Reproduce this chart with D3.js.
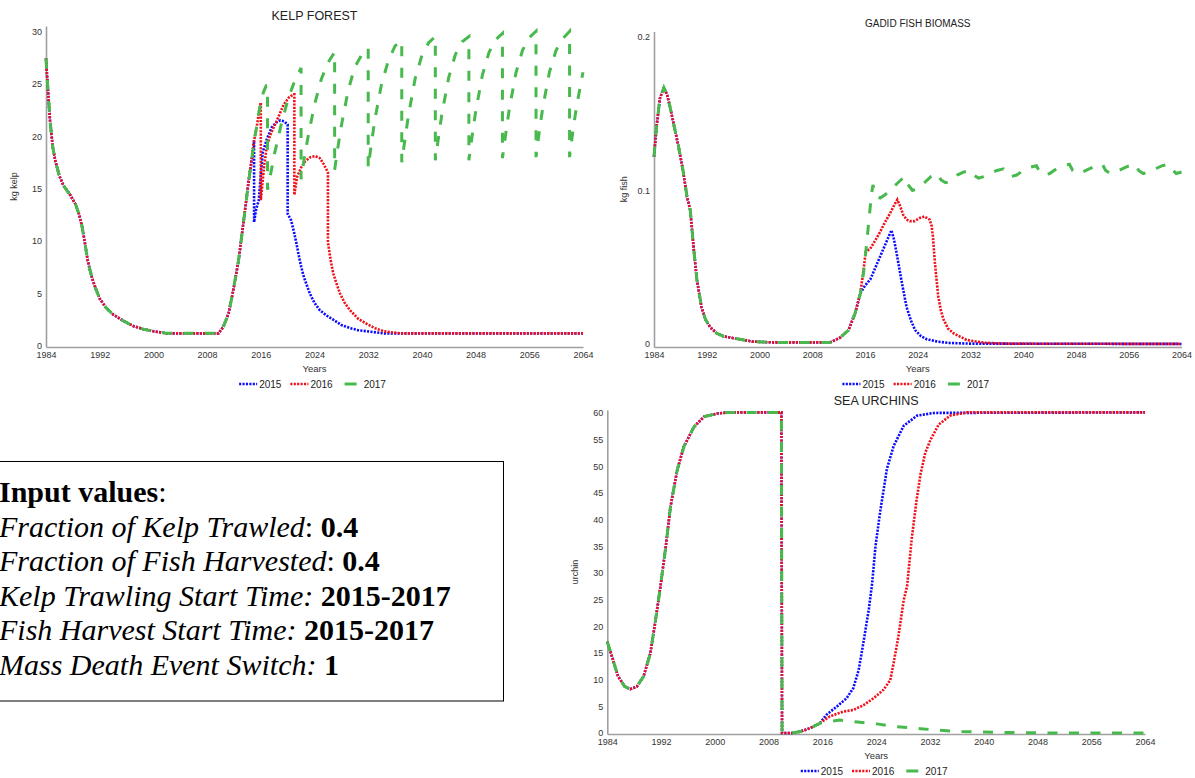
<!DOCTYPE html>
<html>
<head>
<meta charset="utf-8">
<script src="https://cdn.jsdelivr.net/npm/d3@7"></script>
<style>
  body { margin: 0; background: #fff; }
  svg { display: block; font-family: "Liberation Sans", Arial, sans-serif; }
</style>
</head>
<body>
<div id="chart"></div>
<script>
// x ticks shared by all three panels
const xTicks = [1984, 1992, 2000, 2008, 2016, 2024, 2032, 2040, 2048, 2056, 2064];
const seriesNames = ["2015", "2016", "2017"];

// ---- KELP FOREST (kg kelp), [year, value]
const kelpTicks = [0, 5, 10, 15, 20, 25, 30];
const kelpShared = [
  [1984.0, 27.4], [1984.2, 25.3], [1984.6, 21.5], [1985.0, 19.0], [1985.4, 17.6],
  [1986.0, 16.2], [1986.6, 15.3], [1987.6, 14.4], [1988.4, 13.5], [1988.9, 12.6],
  [1989.4, 11.3], [1989.8, 9.8], [1990.2, 8.2], [1990.6, 7.1], [1991.0, 6.2],
  [1991.5, 5.3], [1992.0, 4.5], [1993.0, 3.6], [1994.0, 3.0], [1995.5, 2.4],
  [1997.0, 1.9], [1998.5, 1.6], [2000.0, 1.4], [2002.0, 1.2], [2009.7, 1.2],
  [2010.4, 1.8], [2011.2, 3.1], [2011.9, 5.3], [2012.7, 8.2], [2013.2, 10.7],
  [2013.9, 14.2], [2014.2, 15.8], [2014.7, 18.0], [2015.0, 19.6]
];
const kelp2015 = kelpShared.concat([
  [2015.0, 11.8], [2015.3, 13.0], [2015.7, 13.9], [2016.0, 16.3], [2016.3, 18.5],
  [2016.9, 19.7], [2017.6, 20.8], [2018.3, 21.3], [2018.9, 21.5], [2019.5, 21.4],
  [2020.0, 21.1], [2020.0, 12.6], [2020.5, 12.0], [2020.9, 11.0], [2021.3, 9.8],
  [2021.6, 8.8], [2022.0, 7.6], [2022.4, 6.6], [2023.3, 5.0], [2024.0, 4.1],
  [2024.8, 3.4], [2025.8, 2.9], [2026.8, 2.5], [2028.0, 2.0], [2029.3, 1.7],
  [2030.5, 1.5], [2031.8, 1.4], [2034.3, 1.2], [2064.0, 1.2]
]);
const kelp2016 = kelpShared.concat([
  [2015.4, 20.9], [2015.7, 22.2], [2016.0, 23.2], [2016.0, 13.9], [2016.2, 15.2],
  [2016.5, 17.2], [2016.9, 19.0], [2017.4, 20.1], [2018.4, 21.5], [2019.4, 23.0],
  [2020.2, 23.7], [2020.9, 24.0], [2021.0, 24.0], [2021.0, 14.4], [2021.4, 16.1],
  [2022.0, 17.0], [2022.6, 17.6], [2023.4, 18.0], [2024.1, 18.1], [2024.8, 17.9],
  [2025.3, 17.4], [2025.8, 16.8], [2026.0, 16.5], [2026.0, 9.9], [2026.4, 8.2],
  [2026.8, 6.9], [2027.3, 5.9], [2027.8, 5.0], [2028.5, 4.1], [2029.3, 3.4],
  [2030.5, 2.6], [2031.8, 2.1], [2033.0, 1.7], [2034.3, 1.4], [2036.8, 1.2],
  [2064.0, 1.2]
]);
const kelp2017 = kelpShared.concat([
  [2015.4, 20.9], [2015.7, 22.2], [2016.0, 23.2], [2016.4, 24.2], [2016.8, 24.8],
  [2017.0, 24.8], [2017.0, 14.9], [2017.5, 16.5], [2018.0, 18.2], [2019.0, 21.0],
  [2020.0, 23.4], [2021.0, 25.2], [2022.0, 26.5], [2022.0, 15.9], [2022.5, 18.0],
  [2023.0, 19.8], [2024.0, 23.0], [2025.0, 25.4], [2026.0, 27.0], [2027.0, 28.0],
  [2027.0, 16.8], [2027.5, 19.0], [2028.0, 21.0], [2029.0, 24.3], [2030.0, 26.6],
  [2031.0, 27.7], [2032.0, 28.4], [2032.0, 17.0], [2032.5, 19.4], [2033.0, 21.6],
  [2034.0, 25.0], [2035.0, 27.2], [2036.0, 28.6], [2037.0, 29.1], [2037.0, 17.5],
  [2037.5, 19.8], [2038.0, 22.0], [2039.0, 25.5], [2040.0, 27.7], [2041.0, 28.9],
  [2042.0, 29.5], [2042.0, 17.7], [2042.5, 20.0], [2043.0, 22.2], [2044.0, 25.6],
  [2045.0, 27.8], [2046.0, 29.0], [2047.0, 29.5], [2047.0, 17.7], [2047.5, 20.1],
  [2048.0, 22.3], [2049.0, 25.8], [2050.0, 28.0], [2051.0, 29.2], [2052.0, 29.8],
  [2052.0, 17.9], [2052.5, 20.3], [2053.0, 22.5], [2054.0, 26.0], [2055.0, 28.2],
  [2056.0, 29.4], [2057.0, 30.0], [2057.0, 18.0], [2057.5, 20.5], [2058.0, 22.7],
  [2059.0, 26.1], [2060.0, 28.2], [2061.0, 29.3], [2062.0, 30.0], [2062.0, 18.0],
  [2062.5, 20.5], [2063.0, 22.7], [2064.0, 26.1]
]);

// ---- GADID FISH BIOMASS (kg fish)
const fishTicks = [0, 0.1, 0.2];
const fishShared = [
  [1984.0, 0.122], [1984.4, 0.142], [1984.9, 0.160], [1985.5, 0.167], [1986.0, 0.162],
  [1986.4, 0.155], [1987.0, 0.143], [1987.7, 0.129], [1988.4, 0.113], [1989.0, 0.096],
  [1989.5, 0.087], [1990.0, 0.063], [1990.5, 0.042], [1991.2, 0.024], [1991.8, 0.016],
  [1992.5, 0.011], [1993.5, 0.007], [1994.5, 0.005], [1997.0, 0.003], [1999.0, 0.0015],
  [2002.0, 0.001], [2010.7, 0.001], [2012.2, 0.004], [2013.5, 0.009], [2014.5, 0.020],
  [2015.3, 0.033]
];
const fish2015 = fishShared.concat([
  [2016.0, 0.038], [2016.8, 0.042], [2017.5, 0.049], [2018.3, 0.057], [2019.2, 0.066],
  [2020.0, 0.074], [2020.4, 0.068], [2020.8, 0.059], [2021.5, 0.042], [2022.3, 0.024],
  [2023.0, 0.015], [2023.6, 0.009], [2024.5, 0.005], [2025.4, 0.003], [2027.0, 0.0015],
  [2028.9, 0.0006], [2032.0, 0.0002], [2064.0, 0.0]
]);
const fish2016 = fishShared.concat([
  [2015.8, 0.049], [2016.1, 0.060], [2016.8, 0.062], [2017.5, 0.067], [2018.3, 0.073],
  [2019.0, 0.079], [2019.8, 0.085], [2020.5, 0.091], [2020.9, 0.094], [2021.4, 0.089],
  [2021.8, 0.084], [2022.3, 0.081], [2022.8, 0.080], [2023.5, 0.080], [2024.3, 0.082],
  [2025.0, 0.083], [2025.8, 0.081], [2026.1, 0.077], [2026.3, 0.070], [2026.6, 0.053],
  [2027.1, 0.031], [2027.5, 0.022], [2027.9, 0.016], [2028.6, 0.010], [2029.4, 0.007],
  [2031.4, 0.0026], [2034.0, 0.0008], [2037.0, 0.0002], [2064.0, 0.0]
]);
const fish2017 = fishShared.concat([
  [2015.8, 0.047], [2016.1, 0.059], [2016.6, 0.081], [2017.0, 0.098], [2017.2, 0.1035],
  [2017.7, 0.096], [2018.3, 0.095], [2019.0, 0.097], [2020.0, 0.101], [2021.0, 0.105],
  [2022.0, 0.109], [2022.5, 0.104], [2023.2, 0.100], [2024.0, 0.101], [2025.0, 0.105],
  [2026.0, 0.109], [2027.0, 0.111], [2027.5, 0.107], [2028.2, 0.105], [2029.0, 0.106],
  [2030.0, 0.110], [2031.0, 0.112], [2032.0, 0.113], [2032.5, 0.110], [2033.2, 0.108],
  [2034.0, 0.109], [2035.0, 0.111], [2036.0, 0.113], [2037.0, 0.114], [2037.5, 0.111],
  [2038.2, 0.109], [2039.0, 0.110], [2040.0, 0.113], [2041.0, 0.115], [2042.0, 0.116],
  [2042.5, 0.112], [2043.2, 0.110], [2044.0, 0.111], [2045.0, 0.114], [2046.0, 0.116],
  [2047.0, 0.117], [2047.5, 0.113], [2048.2, 0.111], [2049.0, 0.112], [2050.0, 0.114],
  [2051.0, 0.116], [2052.0, 0.117], [2052.5, 0.113], [2053.2, 0.111], [2054.0, 0.112],
  [2055.0, 0.114], [2056.0, 0.116], [2057.0, 0.117], [2057.5, 0.113], [2058.2, 0.111],
  [2059.0, 0.112], [2060.0, 0.114], [2061.0, 0.116], [2062.0, 0.117], [2062.5, 0.114],
  [2063.2, 0.111], [2064.0, 0.112]
]);

// ---- SEA URCHINS (urchin)
const urchinTicks = [0, 5, 10, 15, 20, 25, 30, 35, 40, 45, 50, 55, 60];
const urchinShared = [
  [1984.0, 17.1], [1984.7, 14.3], [1985.6, 10.6], [1986.6, 8.7], [1987.4, 8.2],
  [1988.4, 8.7], [1989.4, 10.6], [1990.4, 14.9], [1991.1, 20.5], [1991.9, 27.4],
  [1992.7, 34.9], [1993.4, 42.4], [1994.4, 49.3], [1995.4, 53.7], [1996.9, 57.4],
  [1998.4, 59.3], [2000.4, 59.9], [2002.0, 60.1], [2009.9, 60.1], [2010.0, 0.0],
  [2011.5, 0.0], [2012.7, 0.25], [2014.2, 0.9], [2015.6, 1.8]
];
const urchin2015 = urchinShared.concat([
  [2016.6, 3.4], [2018.1, 4.9], [2019.6, 6.5], [2020.6, 8.4], [2021.4, 11.8],
  [2022.1, 16.9], [2022.9, 23.1], [2023.4, 28.0], [2023.9, 35.0], [2024.6, 41.5],
  [2025.6, 49.5], [2026.6, 53.8], [2028.1, 57.6], [2030.1, 59.5], [2032.6, 60.0],
  [2064.0, 60.1]
]);
const urchin2016 = urchinShared.concat([
  [2017.1, 3.1], [2019.1, 4.0], [2020.6, 4.3], [2022.1, 5.2], [2023.6, 6.5],
  [2025.1, 8.1], [2026.1, 9.9], [2026.6, 13.1], [2027.3, 18.0], [2028.1, 24.9],
  [2028.6, 27.5], [2029.3, 36.5], [2030.0, 43.5], [2030.6, 48.5], [2031.3, 52.5],
  [2032.1, 55.0], [2033.3, 57.8], [2035.0, 59.5], [2037.5, 60.1], [2064.0, 60.1]
]);
const urchin2017 = urchinShared.concat([
  [2016.6, 2.1], [2018.6, 2.4], [2021.6, 2.0], [2024.1, 1.7], [2026.6, 1.2],
  [2030.6, 0.8], [2033.3, 0.5], [2036.8, 0.25], [2042.0, 0.1], [2050.0, 0.0],
  [2064.0, 0.0]
]);

// ---- text box
const inputLines = [
  [["Input values", "bold"], [":", "normal"]],
  [["Fraction of Kelp Trawled", "italic"], [": ", "normal"], ["0.4", "bold"]],
  [["Fraction of Fish Harvested", "italic"], [": ", "normal"], ["0.4", "bold"]],
  [["Kelp Trawling Start Time: ", "italic"], ["2015-2017", "bold"]],
  [["Fish Harvest Start Time: ", "italic"], ["2015-2017", "bold"]],
  [["Mass Death Event Switch: ", "italic"], ["1", "bold"]]
];

// line styles per series
const lineStyles = [
  { color: "#0a0aff", width: 2.6, dash: "2.1,1.3" },
  { color: "#f0101a", width: 2.6, dash: "2.1,1.3" },
  { color: "#47b94d", width: 3, dash: "10,11.5" }
];

const svg = d3
  .select("#chart")
  .append("svg")
  .attr("width", 1195)
  .attr("height", 778);

function drawChart(cfg) {
  const g = svg.append("g");
  const x = d3.scaleLinear().domain([1984, 2064]).range([cfg.left, cfg.right]);
  const y = d3.scaleLinear().domain(cfg.yDomain).range([cfg.bottom, cfg.top]);
  const midX = (cfg.left + cfg.right) / 2;

  // axes
  const xAxis = g
    .append("g")
    .attr("transform", `translate(0,${cfg.bottom})`)
    .call(d3.axisBottom(x).tickValues(xTicks).tickFormat(d3.format("d")).tickSize(0).tickPadding(5));
  const yAxis = g
    .append("g")
    .attr("transform", `translate(${cfg.left},0)`)
    .call(d3.axisLeft(y).tickValues(cfg.yTicks).tickFormat((d) => String(d)).tickSize(0).tickPadding(4));
  [xAxis, yAxis].forEach((a) => {
    a.attr("font-family", "Liberation Sans, Arial").attr("font-size", 9);
    a.select(".domain").attr("stroke", "#a0a0a0").attr("stroke-width", 1.6);
    a.selectAll("text").attr("fill", "#333");
  });

  // lines, 2015 first so 2017 sits on top
  const line = d3.line().x((d) => x(d[0])).y((d) => y(d[1]));
  cfg.series.forEach((s, i) => {
    g.append("path")
      .datum(s)
      .attr("fill", "none")
      .attr("stroke", lineStyles[i].color)
      .attr("stroke-width", lineStyles[i].width)
      .attr("stroke-dasharray", lineStyles[i].dash)
      .attr("d", line);
  });

  // title
  g.append("text")
    .attr("x", midX)
    .attr("y", cfg.titleY)
    .attr("text-anchor", "middle")
    .attr("font-size", cfg.titleSize)
    .attr("fill", "#222")
    .text(cfg.title);

  // x label
  g.append("text")
    .attr("x", midX)
    .attr("y", cfg.bottom + 25)
    .attr("text-anchor", "middle")
    .attr("font-size", "9.5px")
    .attr("fill", "#333")
    .text("Years");

  // y label
  g.append("text")
    .attr("transform", `translate(${cfg.yLabelX},${(cfg.top + cfg.bottom) / 2}) rotate(-90)`)
    .attr("dy", "0.35em")
    .attr("text-anchor", "middle")
    .attr("font-size", "9px")
    .attr("fill", "#333")
    .text(cfg.yLabel);

  // legend
  const leg = g.append("g");
  let pos = 0;
  seriesNames.forEach((name, i) => {
    const item = leg.append("g").attr("transform", `translate(${pos},0)`);
    const inset = i === 2 ? 3 : 0;
    item.append("line")
      .attr("x1", inset)
      .attr("x2", 18 - inset)
      .attr("y1", 0)
      .attr("y2", 0)
      .attr("stroke", lineStyles[i].color)
      .attr("stroke-width", lineStyles[i].width)
      .attr("stroke-dasharray", i === 2 ? null : lineStyles[i].dash);
    const t = item.append("text")
      .attr("x", i === 2 ? 22 : 20)
      .attr("dy", "0.35em")
      .attr("font-size", "10px")
      .attr("fill", "#222")
      .text(name);
    pos += 20 + t.node().getComputedTextLength() + 9;
  });
  const legW = pos - 9;
  leg.attr("transform", `translate(${midX - 3 - legW / 2},${cfg.bottom + 37})`);
}

drawChart({
  title: "KELP FOREST", titleY: 20, titleSize: "12.5px",
  left: 46, right: 583, top: 26, bottom: 347,
  yDomain: [-0.1, 30.5], yTicks: kelpTicks,
  yLabel: "kg kelp", yLabelX: 14,
  series: [kelp2015, kelp2016, kelp2017]
});

drawChart({
  title: "GADID FISH BIOMASS", titleY: 26.5, titleSize: "10px",
  left: 654, right: 1181.5, top: 31.5, bottom: 347,
  yDomain: [-0.002, 0.2035], yTicks: fishTicks,
  yLabel: "kg fish", yLabelX: 623.5,
  series: [fish2015, fish2016, fish2017]
});

drawChart({
  title: "SEA URCHINS", titleY: 404.5, titleSize: "12.5px",
  left: 607.3, right: 1145, top: 410, bottom: 734,
  yDomain: [-0.2, 60.55], yTicks: urchinTicks,
  yLabel: "urchin", yLabelX: 575,
  series: [urchin2015, urchin2016, urchin2017]
});

// input values box
svg.append("rect")
  .attr("x", -10)
  .attr("y", 461.5)
  .attr("width", 513.5)
  .attr("height", 239.5)
  .attr("fill", "none")
  .attr("stroke", "#000")
  .attr("stroke-width", 1);

const box = svg.append("text")
  .style("font-family", "'Liberation Serif', 'Times New Roman', serif")
  .attr("font-size", "30px")
  .attr("fill", "#000");
inputLines.forEach((parts, i) => {
  parts.forEach((p, j) => {
    const ts = box.append("tspan").text(p[0]);
    if (j === 0) ts.attr("x", -1).attr("y", 502 + i * 34.6);
    if (p[1] === "bold") ts.attr("font-weight", "bold");
    if (p[1] === "italic") ts.attr("font-style", "italic");
  });
});
</script>
</body>
</html>
